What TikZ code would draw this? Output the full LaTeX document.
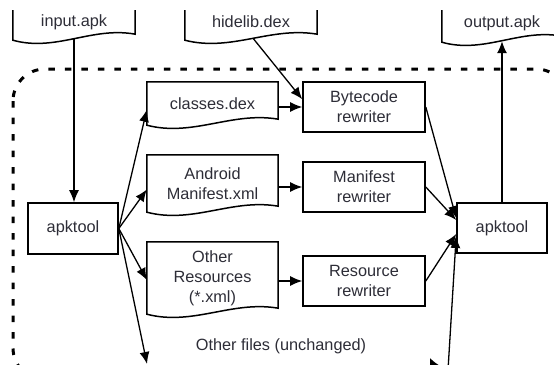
\documentclass[tikz,border=0pt]{standalone}
\usepackage{fontspec}
\setmainfont{Liberation Sans}
\usetikzlibrary{calc,arrows.meta}
\definecolor{txt}{RGB}{45,45,55}
\tikzset{
 base/.style={inner sep=0pt, font=\fontsize{16.3}{20}\selectfont, text=txt, align=center},
 procbox/.style={base, draw=black, line width=1.6pt, minimum width=122pt, minimum height=50pt},
 docbox/.style={base, minimum width=131pt},
 docline/.style={draw=black, line width=1.5pt},
 conn/.style={draw=black, line width=1.3pt, -{Latex[length=12pt,width=10pt]}},
 frame/.style={draw=black, line width=3pt, dash pattern=on 6.5pt off 10pt, rounded corners=32pt},
}
\newcommand\mydoc[1]{%
 \draw[docline] (#1.north west) -- (#1.south west)
   .. controls ($(#1.south west)!0.35!(#1.south east)+(0,12)$) and ($(#1.south west)!0.65!(#1.south east)+(0,-14)$) .. ($(#1.south east)+(0,-6)$) -- (#1.north east) -- cycle;
}
\begin{document}
\begin{tikzpicture}[x=1pt,y=-1pt]
\useasboundingbox (0,0) rectangle (554,364);
\clip (0,10) rectangle (554,364);
\draw[frame] (13,69) rectangle (568,380);
% documents
\node[docbox, minimum width=122pt, minimum height=36pt] (in) at (74,22) {input.apk};
\node[docbox, minimum width=132pt, minimum height=36pt] (hide) at (251,22) {hidelib.dex};
\node[docbox, minimum width=120pt, minimum height=38pt] (out) at (502,23) {output.apk};
\node[docbox, minimum height=43pt] (cls) at (212.5,103.5) {classes.dex};
\node[docbox, minimum height=57pt] (man) at (212.5,183.5) {Android\\Manifest.xml};
\node[docbox, minimum height=72pt] (oth) at (212.5,278) {Other\\Resources\\(*.xml)};
\mydoc{in}\mydoc{hide}\mydoc{out}\mydoc{cls}\mydoc{man}\mydoc{oth}
% process boxes
\node[procbox] (bc) at (364,107) {Bytecode\\rewriter};
\node[procbox] (mrw) at (364,187) {Manifest\\rewriter};
\node[procbox] (rrw) at (364,281) {Resource\\rewriter};
\node[procbox, minimum width=90pt, minimum height=51pt] (apkA) at (73,228.5) {apktool};
\node[procbox, minimum width=90pt, minimum height=50pt] (apkB) at (502,228) {apktool};
\node[base] (other) at (281,346) {Other files (unchanged)};
% connectors
\draw[conn] ($(in.south)+(0,-2)$) -- (in.south |- apkA.north);
\draw[conn] ($(hide.south)+(2,-2)$) -- ($(bc.north west)+(0,18)$);
\draw[conn] (cls.east |- bc.west) -- (bc.west);
\draw[conn] (man.east |- mrw.west) -- (mrw.west);
\draw[conn] (oth.east |- rrw.west) -- (rrw.west);
\draw[conn] (apkA.east) -- ($(cls.north west)+(0,28)$);
\draw[conn] (apkA.east) -- ($(man.west)+(0,6)$);
\draw[conn] (apkA.east) -- ($(oth.west)+(0,2)$);
\coordinate (b1) at (147,364);
\draw[conn] (apkA.east) -- (b1);
\coordinate (b2) at (444,368);
\draw[conn, -{Latex[length=14pt,width=20pt]}] (b1 |- b2) -- (b2);
\coordinate (b3) at (448,370);
\draw[conn] (b3) -- ($(apkB.west)+(0,8)$);
\draw[conn] (bc.east) -- ($(apkB.west)+(0,-10)$);
\draw[conn] (mrw.east) -- ($(apkB.west)+(0,-8)$);
\draw[conn] (rrw.east) -- ($(apkB.west)+(0,6)$);
\draw[conn] (apkB.north) -- ($(out.south)+(0,-1)$);
\end{tikzpicture}
\end{document}
